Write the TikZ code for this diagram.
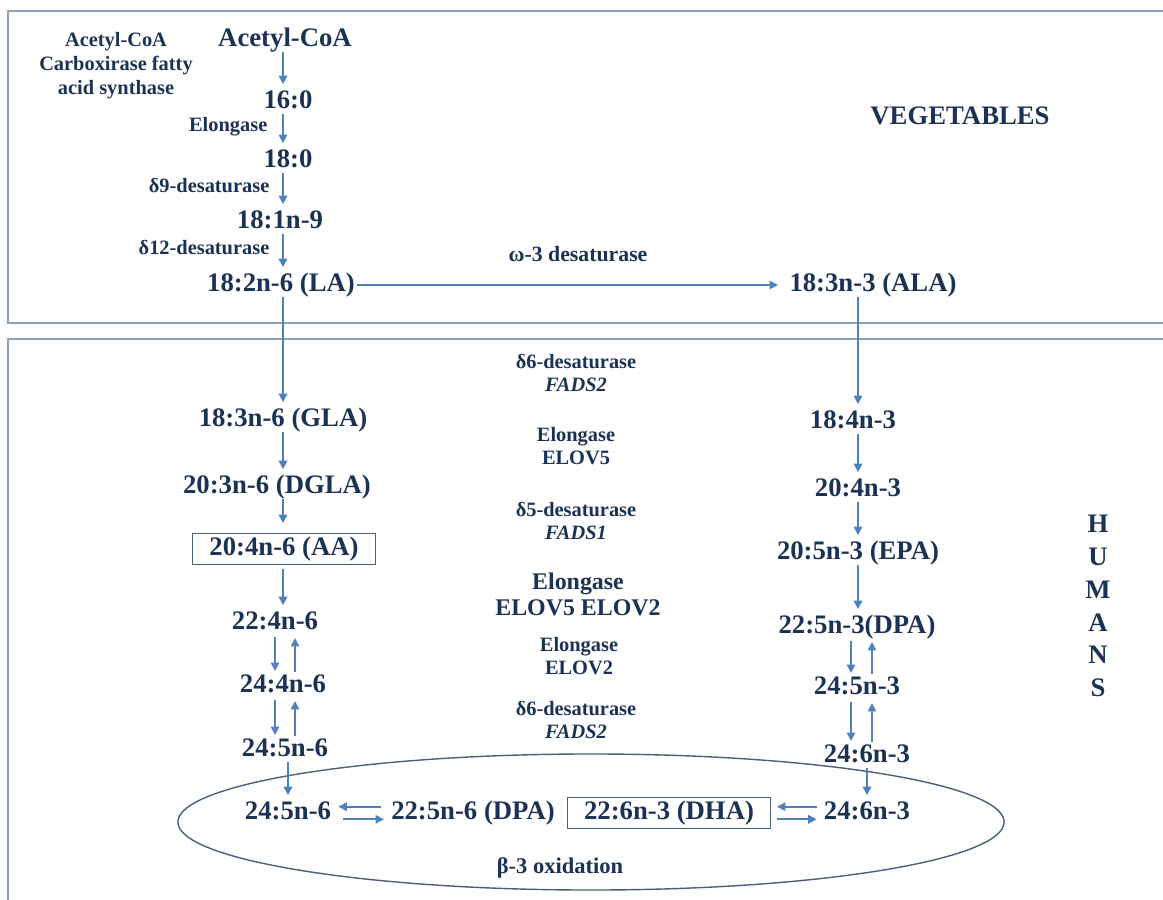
\documentclass[tikz,border=0pt]{standalone}
\usepackage{xcolor}
\usepackage{fontspec}
\setmainfont{Liberation Serif}
\usetikzlibrary{arrows.meta}

\definecolor{ink}{HTML}{1C3254}
\definecolor{arrowblue}{HTML}{4F81BD}
\definecolor{framegray}{HTML}{8FA1BA}
\definecolor{boxline}{HTML}{4A5F7E}

\begin{document}
\begin{tikzpicture}[x=0.025cm,y=-0.025cm,
    acid/.style={inner sep=1pt,text=ink,font=\fontsize{19}{22}\selectfont\bfseries,
                 text height=0.9em,text depth=0em},
    boxed/.style={acid,draw=boxline,line width=0.8pt,inner xsep=12pt,inner ysep=6.5pt},
    enzyme/.style={inner sep=1pt,text=ink,font=\fontsize{14.5}{16.5}\selectfont\bfseries,align=center},
    flow/.style={draw=arrowblue,line width=1.2pt,-{Triangle[length=6pt,width=6pt]},
                 shorten <=3pt,shorten >=7pt},
    pair/.style={flow,shorten <=4pt,shorten >=5pt},
    swap/.style={flow,shorten <=4pt,shorten >=4pt},
    frame/.style={draw=framegray,line width=1.3pt}]
    \useasboundingbox (0,0) rectangle (1163,900);

    % The two panels
    \draw[frame] (1163,11) -- (8,11) -- (8,323) -- (1163,323);
    \draw[frame] (1163,339) -- (8,339) -- (8,900);

    % beta oxidation ellipse
    \draw[boxline,line width=1pt] (591,822) ellipse [x radius=10.325cm,y radius=1.7cm];

    % Columns for the arrows
    \coordinate (lx) at (283,0);
    \coordinate (ldown) at (275,0);
    \coordinate (lup) at (295,0);
    \coordinate (rx) at (858,0);
    \coordinate (rdown) at (851,0);
    \coordinate (rup) at (872,0);

    % Vegetables: synthesis of LA and ALA
    \node[acid] (acoa) at (285,40) {Acetyl-CoA};
    \node[acid] (p160) at (288,102) {16:0};
    \node[acid] (p180) at (288,161) {18:0};
    \node[acid] (p181) at (280,222) {18:1n-9};
    \node[acid] (la) at (281,285) {18:2n-6 (LA)};
    \node[acid] (ala) at (873,285) {18:3n-3 (ALA)};
    \node[acid] (veg) at (960,118) {VEGETABLES};

    \node[enzyme,font=\fontsize{14.5}{17}\selectfont\bfseries] (acc) at (116,66)
        {Acetyl-CoA\\Carboxirase fatty\\acid synthase};
    \node[enzyme,anchor=east] (elo1) at (269,127) {Elongase};
    \node[enzyme,anchor=east] (d9) at (271,186) {δ9-desaturase};
    \node[enzyme,anchor=east] (d12) at (271,248) {δ12-desaturase};
    \node[enzyme,font=\fontsize{15.5}{17}\selectfont\bfseries] (w3) at (578,254) {ω-3 desaturase};

    \draw[flow] (acoa.south -| lx) -- (p160.north -| lx);
    \draw[flow] (p160.south -| lx) -- (p180.north -| lx);
    \draw[flow] (p180.south -| lx) -- (p181.north -| lx);
    \draw[flow] (p181.south -| lx) -- (la.north -| lx);
    \draw[flow,shorten <=0pt] (la) -- (ala);

    % Humans: n-6 series
    \node[acid] (gla) at (283,420) {18:3n-6 (GLA)};
    \node[acid] (dgla) at (277,487) {20:3n-6 (DGLA)};
    \node[boxed] (aa) at (284,549) {20:4n-6 (AA)};
    \node[acid] (p224) at (275,623) {22:4n-6};
    \node[acid] (p244) at (283,686) {24:4n-6};
    \node[acid] (p245) at (285,750) {24:5n-6};

    % Humans: n-3 series
    \node[acid] (p184) at (853,422) {18:4n-3};
    \node[acid] (p204) at (858,490) {20:4n-3};
    \node[acid] (epa) at (858,553) {20:5n-3 (EPA)};
    \node[acid] (dpa3) at (857,627) {22:5n-3(DPA)};
    \node[acid] (p245b) at (857,688) {24:5n-3};
    \node[acid] (p246) at (867,756) {24:6n-3};

    % Enzymes in the middle
    \node[enzyme] (e1) at (576,373) {δ6-desaturase\\\textit{FADS2}};
    \node[enzyme] (e2) at (576,446) {Elongase\\ELOV5};
    \node[enzyme] (e3) at (576,521) {δ5-desaturase\\\textit{FADS1}};
    \node[enzyme,font=\fontsize{17}{18.5}\selectfont\bfseries] (e4) at (578,594) {Elongase\\ELOV5 ELOV2};
    \node[enzyme] (e5) at (579,656) {Elongase\\ELOV2};
    \node[enzyme] (e6) at (576,720) {δ6-desaturase\\\textit{FADS2}};

    \node[acid,text height=,text depth=,align=center,font=\fontsize{19}{23.4}\selectfont\bfseries]
        (humans) at (1098,606) {H\\U\\M\\A\\N\\S};

    % Inside the ellipse
    \node[acid] (in245) at (288,813) {24:5n-6};
    \node[acid] (dpa6) at (473,813) {22:5n-6 (DPA)};
    \node[boxed] (dha) at (669,813) {22:6n-3 (DHA)};
    \node[acid] (in246) at (867,813) {24:6n-3};
    \node[enzyme,font=\fontsize{16}{18}\selectfont\bfseries] (beta) at (560,868) {β-3 oxidation};

    % n-6 arrows
    \draw[flow] (la.south -| lx) -- (gla.north -| lx);
    \draw[flow] (gla.south -| lx) -- (dgla.north -| lx);
    \draw[flow] (dgla.south -| lx) -- (aa.north -| lx);
    \draw[flow] (aa.south -| lx) -- (p224.north -| lx);
    \draw[pair] (p224.south -| ldown) -- (p244.north -| ldown);
    \draw[pair] (p244.north -| lup) -- (p224.south -| lup);
    \draw[pair] (p244.south -| ldown) -- (p245.north -| ldown);
    \draw[pair] (p245.north -| lup) -- (p244.south -| lup);
    \draw[flow] (p245.south -| in245) -- (in245.north);

    % n-3 arrows
    \draw[flow] (ala.south -| rx) -- (p184.north -| rx);
    \draw[flow] (p184.south -| rx) -- (p204.north -| rx);
    \draw[flow] (p204.south -| rx) -- (epa.north -| rx);
    \draw[flow] (epa.south -| rx) -- (dpa3.north -| rx);
    \draw[pair] (dpa3.south -| rdown) -- (p245b.north -| rdown);
    \draw[pair] (p245b.north -| rup) -- (dpa3.south -| rup);
    \draw[pair] (p245b.south -| rdown) -- (p246.north -| rdown);
    \draw[pair] (p246.north -| rup) -- (p245b.south -| rup);
    \draw[flow] (p246.south -| in246) -- (in246.north);

    % Exchanges inside the ellipse
    \draw[swap,shorten <=6pt] ([yshift=4.5pt]dpa6.west) -- ([yshift=4.5pt]in245.east);
    \draw[swap,shorten <=7pt] ([yshift=-4.5pt]in245.east) -- ([yshift=-4.5pt]dpa6.west);
    \draw[swap] ([yshift=4.5pt]in246.west) -- ([yshift=4.5pt]dha.east);
    \draw[swap] ([yshift=-4.5pt]dha.east) -- ([yshift=-4.5pt]in246.west);
\end{tikzpicture}
\end{document}
